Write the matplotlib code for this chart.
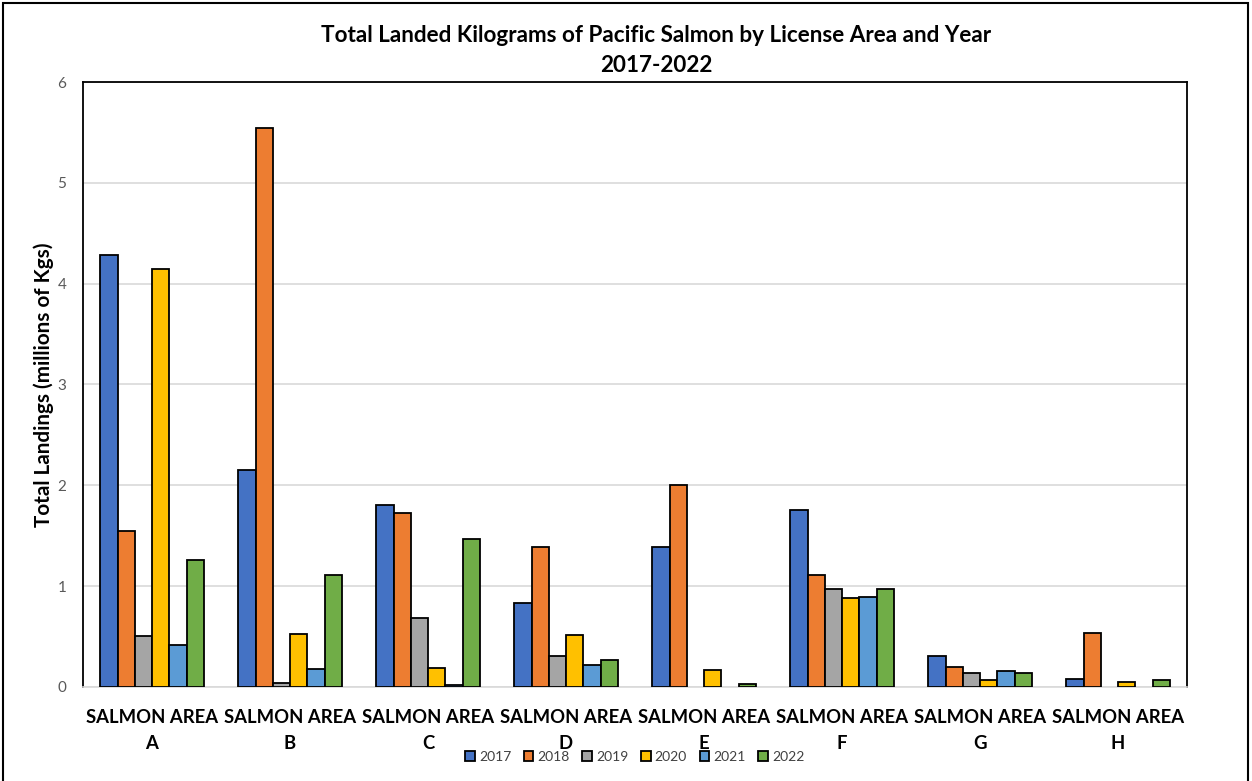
import matplotlib.pyplot as plt
from matplotlib.patches import Rectangle
import numpy as np

areas = ["SALMON AREA\nA", "SALMON AREA\nB", "SALMON AREA\nC", "SALMON AREA\nD",
         "SALMON AREA\nE", "SALMON AREA\nF", "SALMON AREA\nG", "SALMON AREA\nH"]
years = ["2017", "2018", "2019", "2020", "2021", "2022"]

# millions of kg, one list per year (areas A..H); nan = no bar
y2017 = [4.28, 2.15, 1.80, 0.83, 1.39, 1.76, 0.31, 0.08]
y2018 = [1.55, 5.54, 1.73, 1.39, 2.00, 1.11, 0.20, 0.54]
y2019 = [0.51, 0.04, 0.68, 0.31, np.nan, 0.97, 0.14, np.nan]
y2020 = [4.15, 0.53, 0.19, 0.52, 0.17, 0.88, 0.07, 0.05]
y2021 = [0.42, 0.18, 0.02, 0.22, np.nan, 0.89, 0.16, np.nan]
y2022 = [1.26, 1.11, 1.47, 0.27, 0.03, 0.97, 0.14, 0.07]
series = [y2017, y2018, y2019, y2020, y2021, y2022]

colors = ["#4472C4", "#ED7D31", "#A5A5A5", "#FFC000", "#5B9BD5", "#70AD47"]

plt.rcParams["font.family"] = ["Lato", "DejaVu Sans"]

fig = plt.figure(figsize=(12.52, 7.81), dpi=100)
ax = fig.add_axes([0.0663, 0.1204, 0.8818, 0.7746])

x = np.arange(len(areas))
w = 0.125
for i, (vals, col, yr) in enumerate(zip(series, colors, years)):
    ax.bar(x + (i - 2.5) * w, vals, width=w, color=col, edgecolor="black",
           linewidth=1.3, label=yr, zorder=3)

ax.set_xlim(-0.5, len(areas) - 0.5)
ax.set_ylim(0, 6)
ax.set_yticks(range(0, 7))
ax.tick_params(axis="y", length=0, labelsize=11, labelcolor="#595959", pad=12)
ax.tick_params(axis="x", length=0, pad=16)
ax.set_xticks(x)
ax.set_xticklabels(areas, fontsize=13.3, fontweight="bold", linespacing=1.6)
ax.grid(axis="y", color="#D9D9D9", linewidth=1.2, zorder=0)

for s in ["left", "top", "right"]:
    ax.spines[s].set_color("black")
    ax.spines[s].set_linewidth(1.3)
ax.spines["bottom"].set_color("#D9D9D9")
ax.spines["bottom"].set_linewidth(1.2)

ax.set_ylabel("Total Landings (millions of Kgs)", fontsize=14.9, fontweight="bold",
              labelpad=0)
ax.yaxis.set_label_coords(-0.026, 0.5)

fig.text(0.524, 0.955, "Total Landed Kilograms of Pacific Salmon by License Area and Year",
         ha="center", va="center", fontsize=16.2, fontweight="bold")
fig.text(0.524, 0.916, "2017-2022", ha="center", va="center",
         fontsize=16.2, fontweight="bold")

leg = fig.legend(loc="center", bbox_to_anchor=(0.507, 0.031), ncol=6, frameon=False,
                 fontsize=10, handlelength=0.7, handleheight=0.7, handletextpad=0.3,
                 columnspacing=0.9)
for t in leg.get_texts():
    t.set_color("#404040")

# outer chart border
fig.add_artist(Rectangle((0.002, -0.01), 0.995, 1.006, transform=fig.transFigure,
                         fill=False, edgecolor="black", linewidth=1.5))

fig.savefig("out.png", dpi=100, facecolor="white")
